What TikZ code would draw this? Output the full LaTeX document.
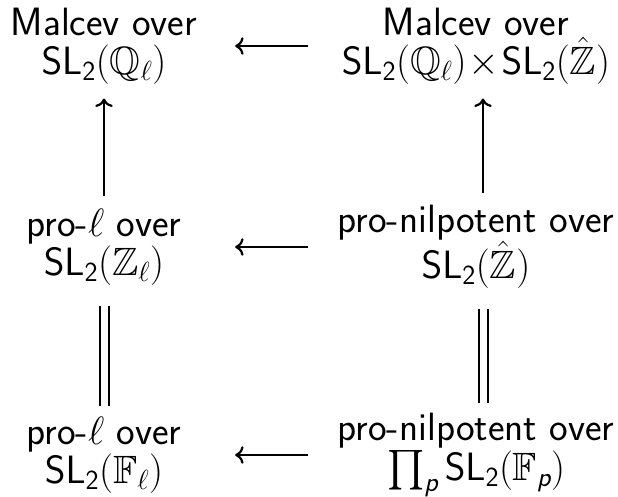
\RequirePackage{fix-cm}
\documentclass[tikz,border=0pt]{standalone}
\usepackage{amsmath,amssymb}
\usetikzlibrary{arrows.meta}
% sans-serif group notation
\newcommand{\SLtwo}{\mathsf{SL}_{\mathsf{2}}}
\newcommand{\ip}{\text{\sffamily\itshape p}}
\begin{document}
\begin{tikzpicture}[x=1pt, y=-1pt,
  lbl/.style={align=center, inner sep=0pt,
    font=\fontsize{39.5}{39.5}\selectfont\sffamily},
  lcol/.style={lbl, minimum width=232pt},
  rcol/.style={lbl, minimum width=302pt},
  cd/.style={line width=2.2pt, -{Computer Modern Rightarrow[scale=1.3]}},
  eq/.style={double, double distance=7pt, line width=2pt}]
\useasboundingbox (0,0) rectangle (618,497);

% the six groups
\node[lcol] (TL) at (104,46)  {Malcev over\\$\SLtwo(\mathbb{Q}_\ell)$};
\node[rcol] (TR) at (476,46)  {Malcev over\\$\SLtwo(\mathbb{Q}_\ell)\!\times\!\SLtwo(\hat{\mathbb{Z}})$};
\node[lcol] (ML) at (104,247) {pro-$\ell$ over\\$\SLtwo(\mathbb{Z}_\ell)$};
\node[rcol] (MR) at (476,247) {pro-nilpotent over\\$\SLtwo(\hat{\mathbb{Z}})$};
\node[lcol] (BL) at (104,455) {pro-$\ell$ over\\$\SLtwo(\mathbb{F}_\ell)$};
\node[rcol] (BR) at (476,455) {pro-nilpotent over\\$\textstyle\prod_{\ip}\SLtwo(\mathbb{F}_{\ip})$};

% horizontal maps
\draw[cd, shorten <=17pt, shorten >=15pt] (TR) -- (TL);
\draw[cd, shorten <=17pt, shorten >=15pt] (MR) -- (ML);
\draw[cd, shorten <=17pt, shorten >=15pt] (BR) -- (BL);

% vertical maps
\draw[cd, shorten <=12pt, shorten >=14pt] (ML.north) -- (TL.south);
\draw[cd, shorten <=12pt, shorten >=14pt] ([xshift=7pt]MR.north) -- ([xshift=7pt]TR.south);
\draw[eq, shorten <=10pt, shorten >=20pt] (BL.north) -- (ML.south);
\draw[eq, shorten <=10pt, shorten >=20pt] ([xshift=7pt]BR.north) -- ([xshift=7pt]MR.south);
\end{tikzpicture}
\end{document}
